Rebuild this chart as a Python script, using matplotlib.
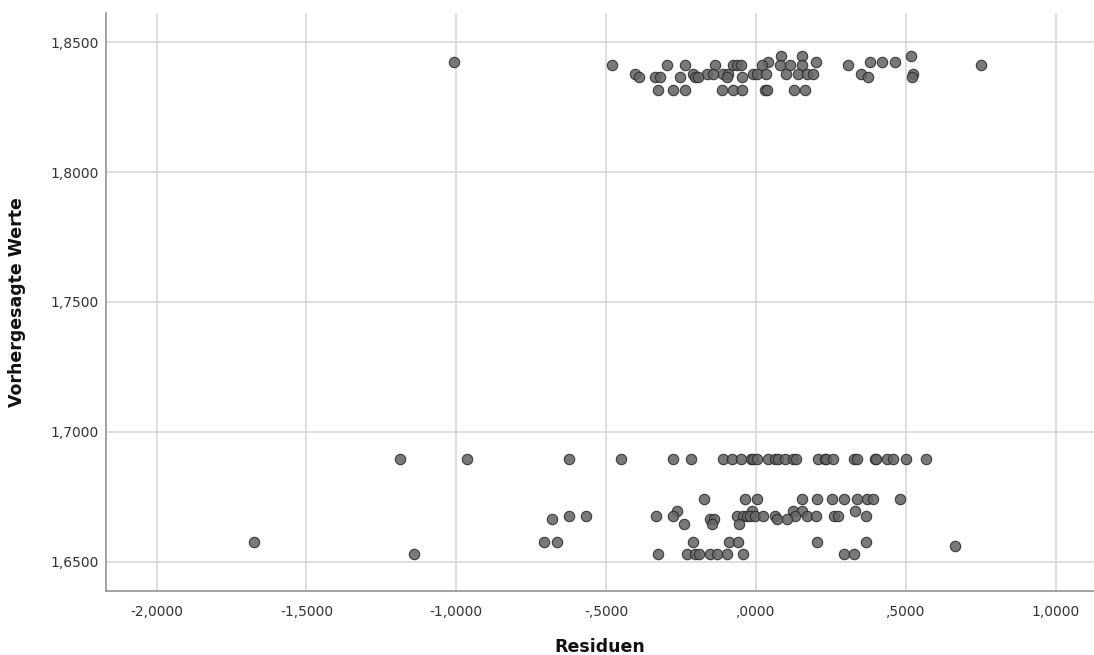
import numpy as np
import matplotlib
matplotlib.use("Agg")
import matplotlib.pyplot as plt
from matplotlib.ticker import FuncFormatter

# Residuals grouped by predicted value (Vorhergesagte Werte)
pred_18447 = [0.085, 0.155, 0.516]
pred_18424 = [-1.007, 0.039, 0.200, 0.380, 0.421, 0.463]
pred_18412 = [-0.480, -0.298, -0.237, -0.137, -0.076, -0.065, -0.051, 0.019,
              0.080, 0.113, 0.155, 0.308, 0.750]
pred_18376 = [-0.404, -0.209, -0.165, -0.143, -0.109, -0.093, -0.009, 0.002,
              0.035, 0.099, 0.141, 0.169, 0.191, 0.352, 0.525]
pred_18367 = [-0.390, -0.337, -0.321, -0.254, -0.204, -0.193, -0.098, -0.048,
              0.374, 0.521]
pred_18317 = [-0.326, -0.276, -0.237, -0.115, -0.076, -0.048, 0.030, 0.037,
              0.127, 0.163]

pred_16897 = [-1.188, -0.964, -0.623, -0.452, -0.278, -0.218, -0.109, -0.081,
              -0.051, -0.015, -0.009, 0.002, 0.041, 0.063, 0.074, 0.096, 0.124,
              0.135, 0.208, 0.230, 0.235, 0.258, 0.327, 0.336, 0.397, 0.402,
              0.436, 0.458, 0.500, 0.569]
pred_16743 = [-0.174, -0.037, 0.002, 0.155, 0.205, 0.254, 0.294, 0.336, 0.369,
              0.391, 0.482]
pred_16695 = [-0.265, -0.013, 0.124, 0.155, 0.330]
pred_16678 = [-0.568, -0.623, -0.332, -0.276, -0.065, -0.043, -0.031, -0.020,
              -0.004, 0.024, 0.063, 0.130, 0.169, 0.200, 0.260, 0.274, 0.366]
pred_16665 = [-0.681, -0.154, -0.139, 0.069, 0.104]
pred_16646 = [-0.240, -0.148, -0.056]
pred_16575 = [-1.675, -0.708, -0.663, -0.209, -0.090, -0.059, 0.205, 0.366]
pred_16562 = [0.665]
pred_16529 = [-1.140, -0.326, -0.229, -0.204, -0.191, -0.154, -0.129, -0.098,
              -0.043, 0.294, 0.327]

groups = [
    (1.8447, pred_18447), (1.8424, pred_18424), (1.8412, pred_18412),
    (1.8376, pred_18376), (1.8367, pred_18367), (1.8317, pred_18317),
    (1.6897, pred_16897), (1.6743, pred_16743), (1.6695, pred_16695),
    (1.6678, pred_16678), (1.6665, pred_16665), (1.6646, pred_16646),
    (1.6575, pred_16575), (1.6562, pred_16562), (1.6529, pred_16529),
]

residuals = np.concatenate([np.asarray(r, float) for _, r in groups])
predicted = np.concatenate([np.full(len(r), p) for p, r in groups])

x_ticks = [-2.0, -1.5, -1.0, -0.5, 0.0, 0.5, 1.0]
y_ticks = [1.65, 1.70, 1.75, 1.80, 1.85]


def german_fmt(v, pos=None):
    s = f"{abs(v):.4f}".replace(".", ",")
    if s.startswith("0,"):
        s = s[1:]
    return ("-" if v < -1e-12 else "") + s


fig = plt.figure(figsize=(10.94, 6.55), dpi=100)
ax = fig.add_axes([0.0969, 0.0977, 0.9031, 0.8825])

ax.scatter(residuals, predicted, s=56, facecolor="#666666", edgecolor="#2b2b2b",
           linewidth=0.8, alpha=0.88, zorder=3)

ax.set_xlim(-2.169, 1.128)
ax.set_ylim(1.6388, 1.8612)
ax.set_xticks(x_ticks)
ax.set_yticks(y_ticks)
ax.xaxis.set_major_formatter(FuncFormatter(german_fmt))
ax.yaxis.set_major_formatter(FuncFormatter(german_fmt))

ax.grid(True, color="#d4d4d4", linewidth=1.1, zorder=0)
ax.set_axisbelow(True)
for side in ("top", "right"):
    ax.spines[side].set_visible(False)
for side in ("left", "bottom"):
    ax.spines[side].set_color("#8a8a8a")
    ax.spines[side].set_linewidth(1.1)

ax.tick_params(axis="both", length=0, labelsize=10, labelcolor="#333333")
ax.tick_params(axis="x", pad=10)
ax.tick_params(axis="y", pad=5)

ax.set_xlabel("Residuen", fontsize=12.5, fontweight="bold", color="#111111",
              labelpad=14)
ax.set_ylabel("Vorhergesagte Werte", fontsize=12.5, fontweight="bold",
              color="#111111", labelpad=18)

fig.savefig("out.png", dpi=100, facecolor="white")
